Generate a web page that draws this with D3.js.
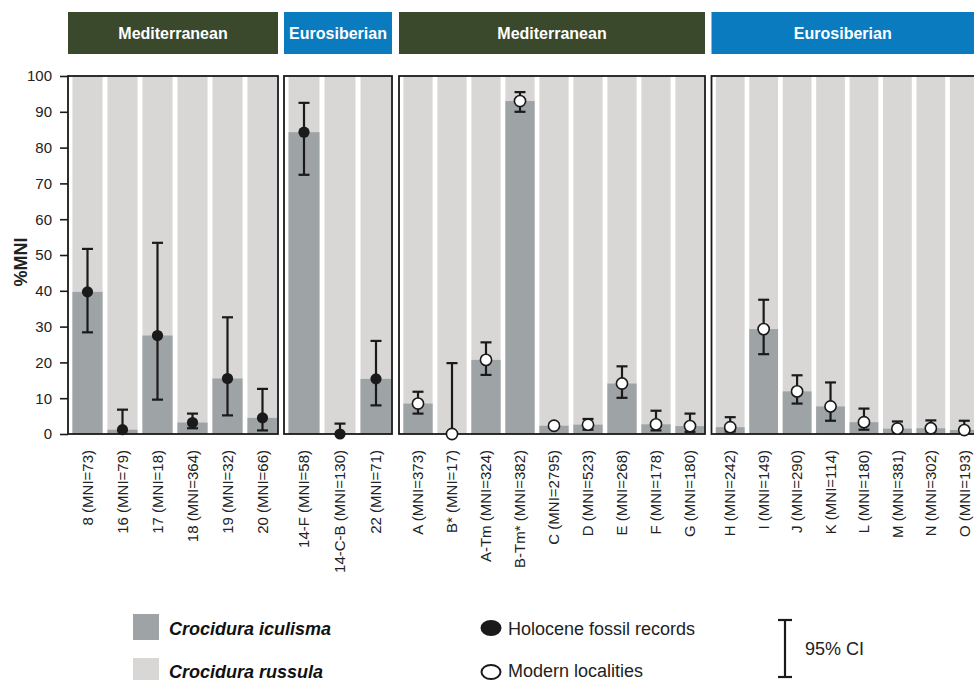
<!DOCTYPE html>
<html>
<head>
<meta charset="utf-8">
<script src="https://cdn.jsdelivr.net/npm/d3@7.9.0/dist/d3.min.js"></script>
<style>
  body { margin: 0; background: #fff; }
  svg { display: block; font-family: "Liberation Sans", Arial, sans-serif; }
</style>
</head>
<body>
<div id="chart"></div>
<script>
// region headers, one per panel
const groupNames = ['Mediterranean', 'Eurosiberian', 'Mediterranean', 'Eurosiberian'];
const groupRecords = ['fossil', 'fossil', 'modern', 'modern'];

const siteLabels = [
  '8 (MNI=73)', '16 (MNI=79)', '17 (MNI=18)', '18 (MNI=364)', '19 (MNI=32)', '20 (MNI=66)',
  '14-F (MNI=58)', '14-C-B (MNI=130)', '22 (MNI=71)',
  'A (MNI=373)', 'B* (MNI=17)', 'A-Tm (MNI=324)', 'B-Tm* (MNI=382)', 'C (MNI=2795)',
  'D (MNI=523)', 'E (MNI=268)', 'F (MNI=178)', 'G (MNI=180)',
  'H (MNI=242)', 'I (MNI=149)', 'J (MNI=290)', 'K (MNI=114)', 'L (MNI=180)',
  'M (MNI=381)', 'N (MNI=302)', 'O (MNI=193)'
];
const siteGroup = [0, 0, 0, 0, 0, 0, 1, 1, 1, 2, 2, 2, 2, 2, 2, 2, 2, 2, 3, 3, 3, 3, 3, 3, 3, 3];

// % of Crocidura iculisma, with 95% CI
const iculismaPct = [39.7, 1.2, 27.5, 3.2, 15.5, 4.5, 84.3, 0, 15.4,
  8.5, 0, 20.7, 93.0, 2.3, 2.6, 14.1, 2.7, 2.2,
  1.9, 29.3, 11.9, 7.7, 3.3, 1.5, 1.6, 1.1];
const ciLow = [28.4, 0, 9.6, 1.6, 5.2, 1.0, 72.4, 0, 8.0,
  5.7, 0, 16.5, 90.0, 1.8, 1.2, 10.1, 1.0, 0.6,
  0.7, 22.3, 8.5, 3.7, 1.2, 0.7, 0.7, 0.3];
const ciHigh = [51.7, 6.8, 53.4, 5.7, 32.6, 12.6, 92.5, 2.9, 26.0,
  11.8, 19.8, 25.6, 95.5, 2.9, 4.2, 18.9, 6.5, 5.7,
  4.7, 37.5, 16.4, 14.4, 7.1, 3.5, 3.8, 3.7];

const yTicks = [0, 10, 20, 30, 40, 50, 60, 70, 80, 90, 100];

const colors = {
  med: '#3a482c',
  euro: '#0a7bbf',
  marsh: '#1e7d6a',
  iculisma: '#9ea3a5',
  russula: '#d8d7d6',
  ink: '#1a1a1a'
};

const width = 974;
const height = 680;
const panelX = [[68, 278], [284, 392], [399, 705], [711.5, 979]];

const svg = d3.select('#chart').append('svg')
  .attr('width', width)
  .attr('height', height);

const y = d3.scaleLinear().domain([0, 100]).range([434, 76]);

const rows = siteLabels.map((label, i) => ({
  label,
  group: siteGroup[i],
  pct: iculismaPct[i],
  lo: ciLow[i],
  hi: ciHigh[i]
}));

// y axis
const yAxis = svg.append('g')
  .attr('transform', 'translate(68,0)')
  .call(d3.axisLeft(y).tickValues(yTicks).tickSize(8).tickPadding(8));
yAxis.select('.domain').remove();
yAxis.selectAll('.tick line').attr('stroke', colors.ink).attr('stroke-width', 1.6);
yAxis.selectAll('.tick text')
  .attr('fill', '#222')
  .style('font-size', '15px')
  .style('font-family', '"Liberation Sans", Arial, sans-serif');

svg.append('text')
  .attr('transform', 'translate(27,262) rotate(-90)')
  .attr('text-anchor', 'middle')
  .style('font-size', '18px')
  .style('font-weight', 'bold')
  .attr('fill', '#222')
  .text('%MNI');

const scales = [];

groupNames.forEach((name, g) => {
  const [x0, x1] = panelX[g];
  const data = rows.filter(d => d.group === g);
  const x = d3.scaleBand()
    .domain(data.map(d => d.label))
    .range([x0 + 2, x1 + 2])
    .paddingInner(0.14)
    .paddingOuter(0.07);
  scales.push(x);

  // header
  svg.append('rect')
    .attr('x', x0).attr('y', 12)
    .attr('width', x1 - x0).attr('height', 42)
    .attr('fill', name === 'Mediterranean' ? colors.med : colors.euro);
  svg.append('text')
    .attr('x', (x0 + Math.min(x1, width)) / 2)
    .attr('y', 33)
    .attr('dy', '0.35em')
    .attr('text-anchor', 'middle')
    .attr('fill', '#fff')
    .style('font-size', '16px')
    .style('font-weight', 'bold')
    .text(name);

  const panel = svg.append('g');

  panel.selectAll('rect.bg')
    .data(data)
    .join('rect')
    .attr('class', 'bg')
    .attr('x', d => x(d.label))
    .attr('width', x.bandwidth())
    .attr('y', y(100))
    .attr('height', y(0) - y(100))
    .attr('fill', colors.russula);

  panel.selectAll('rect.val')
    .data(data)
    .join('rect')
    .attr('class', 'val')
    .attr('x', d => x(d.label))
    .attr('width', x.bandwidth())
    .attr('y', d => y(d.pct))
    .attr('height', d => y(0) - y(d.pct))
    .attr('fill', colors.iculisma);

  // frame
  panel.append('rect')
    .attr('x', x0).attr('y', y(100))
    .attr('width', x1 - x0).attr('height', y(0) - y(100))
    .attr('fill', 'none')
    .attr('stroke', colors.ink)
    .attr('stroke-width', 1.8);

  // 95% CI
  const cx = d => x(d.label) + x.bandwidth() / 2;
  const ci = panel.append('g')
    .attr('stroke', colors.ink)
    .attr('stroke-width', 2.2);
  ci.selectAll('line.v').data(data).join('line')
    .attr('x1', cx).attr('x2', cx)
    .attr('y1', d => y(d.lo)).attr('y2', d => y(d.hi));
  ci.selectAll('line.top').data(data).join('line')
    .attr('x1', d => cx(d) - 5.5).attr('x2', d => cx(d) + 5.5)
    .attr('y1', d => y(d.hi)).attr('y2', d => y(d.hi));
  ci.selectAll('line.bot').data(data.filter(d => d.lo > 0)).join('line')
    .attr('x1', d => cx(d) - 5.5).attr('x2', d => cx(d) + 5.5)
    .attr('y1', d => y(d.lo)).attr('y2', d => y(d.lo));

  const fossil = groupRecords[g] === 'fossil';
  panel.selectAll('circle')
    .data(data)
    .join('circle')
    .attr('cx', cx)
    .attr('cy', d => y(d.pct))
    .attr('r', fossil ? 5.6 : 5.6)
    .attr('fill', fossil ? colors.ink : '#fff')
    .attr('stroke', colors.ink)
    .attr('stroke-width', fossil ? 0 : 1.6);

  // site labels
  panel.selectAll('text.site')
    .data(data)
    .join('text')
    .attr('class', 'site')
    .attr('transform', d => `translate(${cx(d)},450) rotate(-90)`)
    .attr('dy', '0.35em')
    .attr('text-anchor', 'end')
    .attr('fill', '#222')
    .style('font-size', '15px')
    .text(d => d.label);
});

// T. marsh tag over the two marsh sites
const x3 = scales[2];
const mx0 = x3('A-Tm') - 3;
const mx1 = x3('B-Tm*') + x3.bandwidth() + 4;
svg.append('rect')
  .attr('x', mx0).attr('y', 54)
  .attr('width', mx1 - mx0).attr('height', 20)
  .attr('fill', colors.marsh);
svg.append('text')
  .attr('x', (mx0 + mx1) / 2).attr('y', 64)
  .attr('dy', '0.35em')
  .attr('text-anchor', 'middle')
  .attr('fill', '#fff')
  .style('font-size', '15px')
  .style('font-weight', 'bold')
  .text('T. marsh');

// legend
const legend = svg.append('g');
const species = [['Crocidura iculisma', colors.iculisma], ['Crocidura russula', colors.russula]];
species.forEach(([name, fill], i) => {
  legend.append('rect')
    .attr('x', 133).attr('y', 614 + i * 44)
    .attr('width', 26).attr('height', 26)
    .attr('fill', fill);
  legend.append('text')
    .attr('x', 169).attr('y', 635 + i * 43)
    .attr('fill', '#111')
    .style('font-size', '18px')
    .style('font-weight', 'bold')
    .style('font-style', 'italic')
    .text(name);
});

const records = [['Holocene fossil records', true], ['Modern localities', false]];
records.forEach(([name, filled], i) => {
  legend.append('ellipse')
    .attr('cx', 491).attr('cy', 628 + i * 44)
    .attr('rx', filled ? 10.5 : 9.5).attr('ry', filled ? 8 : 7)
    .attr('fill', filled ? colors.ink : '#fff')
    .attr('stroke', colors.ink)
    .attr('stroke-width', filled ? 0 : 2);
  legend.append('text')
    .attr('x', 508).attr('y', 635 + i * 42)
    .attr('fill', '#222')
    .style('font-size', '18px')
    .text(name);
});

const ciKey = legend.append('g').attr('stroke', colors.ink).attr('stroke-width', 2.2);
ciKey.append('line').attr('x1', 785).attr('x2', 785).attr('y1', 620).attr('y2', 677);
ciKey.append('line').attr('x1', 778).attr('x2', 792).attr('y1', 620).attr('y2', 620);
ciKey.append('line').attr('x1', 778).attr('x2', 792).attr('y1', 677).attr('y2', 677);
legend.append('text')
  .attr('x', 805).attr('y', 655)
  .attr('fill', '#222')
  .style('font-size', '18px')
  .text('95% CI');
</script>
</body>
</html>
